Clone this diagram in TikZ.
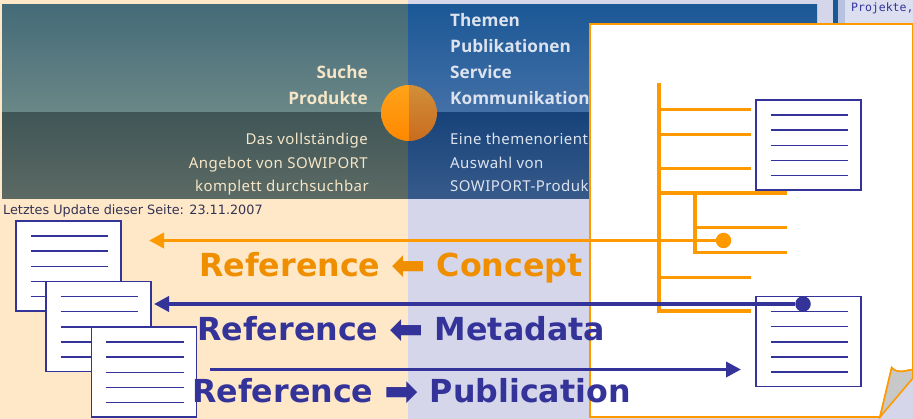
\documentclass[tikz,border=0pt]{standalone}
\usepackage{fontspec}
\setmainfont{DejaVu Sans}
\newfontfamily\bannerfont[LetterSpace=3]{Noto Sans}
\newfontfamily\headfont{Open Sans}
\newfontfamily\labelfont{DejaVu Sans}
\newfontfamily\codefont{DejaVu Sans Mono}
\usetikzlibrary{arrows.meta}
\definecolor{peach}{HTML}{FFE8C8}
\definecolor{lavender}{HTML}{D5D6EA}
\definecolor{treeorange}{HTML}{FF9900}
\definecolor{textorange}{HTML}{EF8F00}
\definecolor{docblue}{HTML}{333399}
\definecolor{cream}{HTML}{F5E6C8}
\definecolor{paleblue}{HTML}{DCE3EF}
\definecolor{barblue}{HTML}{1B5896}
\definecolor{barlight}{HTML}{B7C1E0}
\definecolor{cellblue}{HTML}{DCDFF0}
\definecolor{seatop}{HTML}{446B78}
\definecolor{seabot}{HTML}{6B8787}
\definecolor{landtop}{HTML}{405657}
\definecolor{landbot}{HTML}{5C6A64}
\definecolor{bluetop}{HTML}{1B5896}
\definecolor{bluebot}{HTML}{4470A7}
\definecolor{navytop}{HTML}{17437A}
\definecolor{navybot}{HTML}{375A8A}
\definecolor{suntop}{HTML}{FFA31A}
\definecolor{sunbot}{HTML}{FF8800}
\definecolor{duskytop}{HTML}{D18F3A}
\definecolor{duskybot}{HTML}{C96C1E}
\definecolor{updategray}{HTML}{333355}
\definecolor{foldgray}{HTML}{C8C8C8}
\tikzset{
    branch/.style={draw=treeorange, line width=3.6pt},
    docbox/.style={draw=docblue, fill=white, line width=1.5pt, minimum width=105pt, minimum height=90pt, inner sep=0pt, outer sep=0pt},
    docline/.style={draw=docblue, line width=1.6pt},
    conn/.style={line width=3.6pt, -{Triangle[length=15pt,width=15pt]}},
    dot/.style={circle, minimum size=15.5pt, inner sep=0pt},
    bighead/.style={font=\headfont\fontsize{17.2}{17.2}\selectfont\bfseries, inner sep=0pt},
    bannertext/.style={font=\bannerfont\fontsize{15}{15}\selectfont, inner sep=0pt},
    biglabel/.style={font=\labelfont\fontsize{31.7}{31.7}\selectfont\bfseries, inner sep=0pt, anchor=base west}
}
\newcommand{\docicon}[3]{
    \node[docbox, anchor=north west] (#1) at (#2,#3) {};
    \foreach \k in {15,30,45.5,60.5,75.5}
        \draw[docline] ([shift={(14.5,\k)}]#1.north west) -- ([shift={(92,\k)}]#1.north west);
}
\newcommand{\bigtip}[1]{\raisebox{-3.3pt}{\fontsize{41}{41}\selectfont #1}}
\begin{document}
\begin{tikzpicture}[x=1pt,y=-1pt]
    \useasboundingbox (0,0) rectangle (913,419);
    % page behind
    \fill[peach] (0,0) rectangle (408,419);
    \fill[lavender] (408,0) rectangle (913,419);
    \fill[barblue] (833,0) rectangle (838,23);
    \fill[barlight] (838,0) rectangle (845,23);
    \fill[cellblue] (845,0) rectangle (913,23);
    \node[font=\codefont\fontsize{11.5}{11.5}\selectfont, text=docblue, anchor=base west, inner sep=0pt] (projekte) at (851,12) {Projekte,};
    % banner
    \shade[top color=seatop, bottom color=seabot] (2,5) rectangle (408,113);
    \shade[top color=landtop, bottom color=landbot] (2,113) rectangle (408,199);
    \shade[top color=bluetop, bottom color=bluebot] (408,5) rectangle (817,113);
    \shade[top color=navytop, bottom color=navybot] (408,113) rectangle (817,199);
    \begin{scope}
        \clip (381,85) rectangle (409,141);
        \shade[top color=suntop, bottom color=sunbot] (409,113) circle (28);
    \end{scope}
    \begin{scope}
        \clip (409,85) rectangle (437,141);
        \shade[top color=duskytop, bottom color=duskybot] (409,113) circle (28);
    \end{scope}
    \node[bighead, text=cream, anchor=base east] (suche) at (368,78.5) {Suche};
    \node[bighead, text=cream, anchor=base east] (produkte) at (368,104.5) {Produkte};
    \node[bannertext, text=cream, anchor=base east] (das) at (368,145) {Das vollständige};
    \node[bannertext, text=cream, anchor=base east] (angebot) at (368,169) {Angebot von SOWIPORT};
    \node[bannertext, text=cream, anchor=base east] (komplett) at (369,192) {komplett durchsuchbar};
    \node[bighead, text=paleblue, anchor=base west] (themen) at (450,26.5) {Themen};
    \node[bighead, text=paleblue, anchor=base west] (publikationen) at (450,52.5) {Publikationen};
    \node[bighead, text=paleblue, anchor=base west] (service) at (450,78.5) {Service};
    \node[bighead, text=paleblue, anchor=base west] (kommunikation) at (450,104.5) {Kommunikation};
    \node[bannertext, text=paleblue, anchor=base west] (eine) at (450,145) {Eine themenorient};
    \node[bannertext, text=paleblue, anchor=base west] (auswahl) at (450,169) {Auswahl von};
    \node[bannertext, text=paleblue, anchor=base west] (sowiport) at (450,192) {SOWIPORT-Produk};
    \node[font=\fontsize{12.8}{12.8}\selectfont, text=updategray, anchor=base west, inner sep=0pt] (update) at (3,215) {Letztes Update dieser Seite: 23.11.2007};
    % panel with the turned corner
    \filldraw[draw=treeorange, fill=white, line width=1.6pt] (590,24) -- (913,24) -- (913,369.5) .. controls (903,371) and (898,374) .. (891.7,367.7) -- (880,417) -- (590,417) -- cycle;
    \filldraw[draw=treeorange, fill=foldgray, line width=1.6pt] (891.7,367.7) .. controls (898,374) and (903,371) .. (913,369.5) -- (913,378) -- (880,417) -- cycle;
    % concept tree
    \draw[branch] (659,83) -- (659,311) -- (751,311);
    \draw[branch] (659,109.5) -- (751,109.5);
    \draw[branch] (659,134.5) -- (751,134.5);
    \draw[branch] (659,168.5) -- (751,168.5);
    \draw[branch] (659,193) -- (787,193);
    \draw[branch] (659,277.5) -- (751,277.5);
    \draw[branch] (695,193) -- (695,252.5) -- (787,252.5);
    \draw[branch] (695,227.5) -- (787,227.5);
    % publications
    \docicon{paneldocA}{756}{100}
    \docicon{paneldocB}{756}{296.5}
    \docicon{docA}{16}{221}
    \docicon{docB}{46}{281.5}
    \docicon{docC}{91.5}{327}
    % references
    \node[dot, fill=treeorange] (conceptdot) at (723.5,240.5) {};
    \node[dot, fill=docblue] (metadot) at (803,304) {};
    \coordinate (conceptend) at (149,240.5);
    \coordinate (metaend) at (154,304);
    \coordinate (pubstart) at (210,369.5);
    \coordinate (pubend) at (741,369.5);
    \draw[conn, treeorange] (conceptdot) -- (conceptend);
    \draw[conn, docblue] (metadot) -- (metaend);
    \draw[conn, docblue] (pubstart) -- (pubend);
    \node[biglabel, text=textorange] (conceptlabel) at (199,276.5) {Reference \bigtip{⬅} Concept};
    \node[biglabel, text=docblue] (metalabel) at (197,340.5) {Reference \bigtip{⬅} Metadata};
    \node[biglabel, text=docblue] (publabel) at (192,402.5) {Reference \bigtip{➡} Publication};
\end{tikzpicture}
\end{document}
